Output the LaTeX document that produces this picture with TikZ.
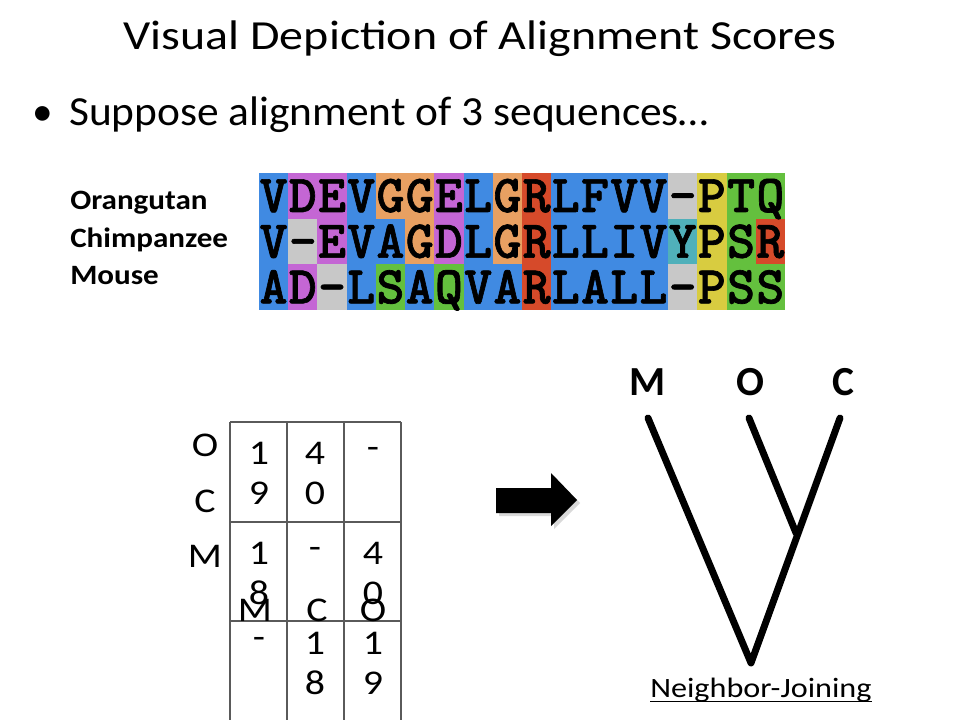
\documentclass[tikz,border=0pt]{standalone}
\usepackage{fontspec}
\usepackage{graphicx}
\setmainfont{Carlito}
\newfontfamily\alnfont{lmmonolt10-bold.otf}[FakeBold=1.2,BoldFont=lmmonolt10-bold.otf]
\definecolor{alB}{RGB}{64,138,226}
\definecolor{alM}{RGB}{196,102,212}
\definecolor{alO}{RGB}{232,160,98}
\definecolor{alR}{RGB}{214,74,42}
\definecolor{alX}{RGB}{200,200,200}
\definecolor{alY}{RGB}{216,204,64}
\definecolor{alN}{RGB}{100,192,62}
\definecolor{alT}{RGB}{80,176,186}
\definecolor{gridc}{RGB}{90,90,90}
\newcommand{\hs}[2]{\scalebox{#1}[1]{#2}}
\tikzset{
  titletxt/.style={inner sep=0pt,font=\fontsize{31}{36}\selectfont},
  lbl/.style={inner sep=0pt,font=\bfseries\fontsize{21}{24}\selectfont},
  cell/.style={inner sep=0pt,font=\fontsize{26}{30}\selectfont},
  leaf/.style={inner sep=0pt,font=\bfseries\fontsize{31}{36}\selectfont},
  treeline/.style={line width=5.2pt,line cap=round,line join=round},
  gridline/.style={draw=gridc,line width=0.8pt},
  alnletter/.style={anchor=base,inner sep=0pt,font=\alnfont\bfseries\fontsize{40}{40}\selectfont},
}
\newcommand{\alnfillrow}[2]{%
  \foreach \c/\l [count=\i from 0] in {#2} {
    \fill[\c] ({259+\i*29.22},{173+#1*45.67}) rectangle ({259+(\i+1)*29.22+0.3},{173+(#1+1)*45.67+0.3});
  }}
\newcommand{\alntextrow}[2]{%
  \foreach \c/\l [count=\i from 0] in {#2} {
    \node[alnletter,name=aln#1x\i] at ({259+(\i+0.5)*29.22},{173+#1*45.67+39}) {\l};
  }}
\begin{document}
\begin{tikzpicture}[x=0.75pt,y=-0.75pt]
\useasboundingbox (0,0) rectangle (960,720);
\fill[white] (0,0) rectangle (960,720);
% title and bullet
\node[titletxt,anchor=base] (title) at (480,49.5) {\hs{1.16}{Visual Depiction of Alignment Scores}};
\node[titletxt,anchor=base] (bullet) at (43,126) {•};
\node[titletxt,anchor=base west] (sub) at (69,126) {\hs{1.05}{Suppose alignment of 3 sequences…}};
% species labels
\node[lbl,anchor=base west] (orang) at (70,210) {\hs{1.11}{Orangutan}};
\node[lbl,anchor=base west] (chimp) at (70,248) {\hs{1.11}{Chimpanzee}};
\node[lbl,anchor=base west] (mouse) at (70,285) {\hs{1.11}{Mouse}};
% alignment
\alnfillrow{0}{alB/V,alM/D,alM/E,alB/V,alO/G,alO/G,alM/E,alB/L,alO/G,alR/R,alB/L,alB/F,alB/V,alB/V,alX/-,alY/P,alN/T,alN/Q}
\alnfillrow{1}{alB/V,alX/-,alM/E,alB/V,alB/A,alO/G,alM/D,alB/L,alO/G,alR/R,alB/L,alB/L,alB/I,alB/V,alT/Y,alY/P,alN/S,alR/R}
\alnfillrow{2}{alB/A,alM/D,alX/-,alB/L,alN/S,alB/A,alN/Q,alB/V,alB/A,alR/R,alB/L,alB/A,alB/L,alB/L,alX/-,alY/P,alN/S,alN/S}
\alntextrow{0}{alB/V,alM/D,alM/E,alB/V,alO/G,alO/G,alM/E,alB/L,alO/G,alR/R,alB/L,alB/F,alB/V,alB/V,alX/-,alY/P,alN/T,alN/Q}
\alntextrow{1}{alB/V,alX/-,alM/E,alB/V,alB/A,alO/G,alM/D,alB/L,alO/G,alR/R,alB/L,alB/L,alB/I,alB/V,alT/Y,alY/P,alN/S,alR/R}
\alntextrow{2}{alB/A,alM/D,alX/-,alB/L,alN/S,alB/A,alN/Q,alB/V,alB/A,alR/R,alB/L,alB/A,alB/L,alB/L,alX/-,alY/P,alN/S,alN/S}
% table grid
\foreach \gx in {230,287,344,401}{ \draw[gridline] (\gx,422) -- (\gx,721); }
\foreach \gy in {422,522,621}{ \draw[gridline] (230,\gy) -- (401,\gy); }
% row labels
\node[cell] (rO) at (205,445) {\hs{1.15}{O}};
\node[cell] (rC) at (205,501) {\hs{1.15}{C}};
\node[cell] (rM) at (205,556) {\hs{1.15}{M}};
% cells
\node[cell] (c11a) at (259,453) {\hs{1.15}{1}};
\node[cell] (c11b) at (259,493) {\hs{1.15}{9}};
\node[cell] (c12a) at (315,453) {\hs{1.15}{4}};
\node[cell] (c12b) at (315,493) {\hs{1.15}{0}};
\node[cell] (c13a) at (373,453) {\hs{1.15}{-}};
\node[cell] (c21a) at (259,553) {\hs{1.15}{1}};
\node[cell] (c21b) at (259,593) {\hs{1.15}{8}};
\node[cell] (c22a) at (315,553) {\hs{1.15}{-}};
\node[cell] (c23a) at (373,553) {\hs{1.15}{4}};
\node[cell] (c23b) at (373,593) {\hs{1.15}{0}};
\node[cell] (c31a) at (259,643) {\hs{1.15}{-}};
\node[cell] (c32a) at (315,643) {\hs{1.15}{1}};
\node[cell] (c32b) at (315,683) {\hs{1.15}{8}};
\node[cell] (c33a) at (373,643) {\hs{1.15}{1}};
\node[cell] (c33b) at (373,683) {\hs{1.15}{9}};
% column labels
\node[cell] (kM) at (255,610) {\hs{1.15}{M}};
\node[cell] (kC) at (317,610) {\hs{1.15}{C}};
\node[cell] (kO) at (373,610) {\hs{1.15}{O}};
% block arrow
\fill[black!15] (499,491) -- (554,491) -- (554,476) -- (580,503) -- (554,529) -- (554,516) -- (499,516) -- cycle;
\fill[black] (496,488) -- (551,488) -- (551,473) -- (577,500) -- (551,526) -- (551,513) -- (496,513) -- cycle;
% tree
\node[leaf,anchor=base] (lM) at (648,395) {M};
\node[leaf,anchor=base] (lO) at (750,395) {O};
\node[leaf,anchor=base] (lC) at (843,395) {C};
\coordinate (tM) at (648,418);
\coordinate (tO) at (749,418);
\coordinate (tC) at (840,418);
\coordinate (root) at (751,663);
\coordinate (jn) at (796,533);
\draw[treeline] (tM) -- (root) -- (tC);
\draw[treeline] (tO) -- (jn);
% caption
\node[inner sep=0pt,anchor=base west,font=\fontsize{21}{24}\selectfont] (nj) at (650,697) {\hs{1.15}{Neighbor-Joining}};
\draw[line width=1.1pt] ([yshift=-3.2pt]nj.base west) -- ([yshift=-3.2pt]nj.base east);
\end{tikzpicture}
\end{document}
